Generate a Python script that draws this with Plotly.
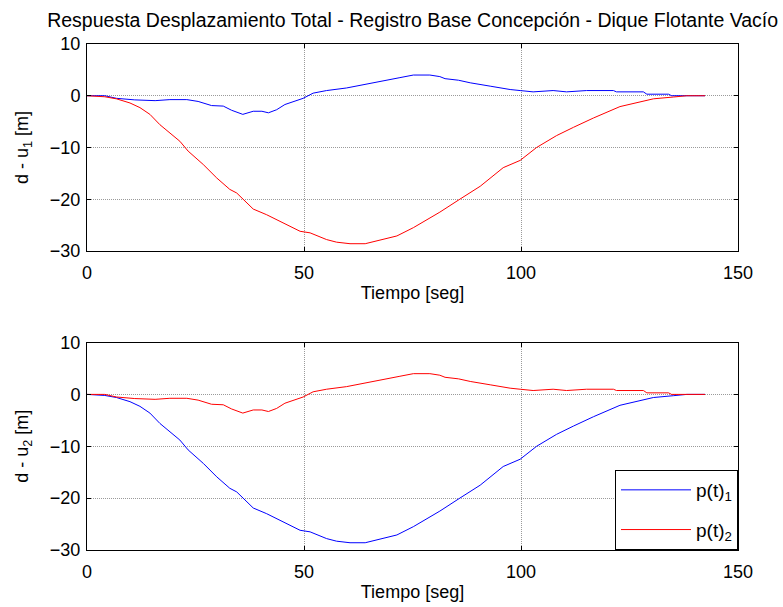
import plotly.graph_objects as go
from plotly.subplots import make_subplots

# Time samples [s] for the two response curves
t_small = [0, 4.1, 6.8, 11.0, 15.7, 19.1, 23.0, 25.6, 28.7, 31.4, 33.3, 35.9, 38.3,
           40.3, 41.8, 43.7, 45.6, 48.3, 49.8, 52.1, 55.2, 59.8, 64.4, 68.3, 72.1,
           75.2, 79.0, 81.3, 82.5, 85.6, 88.3, 92.9, 95.2, 97.5, 99.8, 102.8, 107.4,
           110.5, 115.1, 121.3, 122.0, 128.2, 129.0, 134.0, 134.7, 142.4]
d_small = [0, 0, -0.5, -0.8, -0.95, -0.75, -0.75, -1.1, -1.9, -2.0, -2.8, -3.6, -3.0,
           -3.0, -3.3, -2.7, -1.7, -0.95, -0.5, 0.5, 1.0, 1.5, 2.2, 2.8, 3.5,
           4.0, 4.0, 3.7, 3.3, 3.0, 2.5, 1.85, 1.5, 1.2, 1.0, 0.75, 1.0,
           0.75, 1.0, 1.0, 0.75, 0.75, 0.3, 0.3, 0, 0]

t_large = [0, 4.1, 6.8, 9.9, 12.2, 14.5, 16.8, 19.1, 21.4, 23.3, 26.8, 29.9, 32.9,
           34.5, 36.8, 38.3, 41.4, 45.2, 49.1, 51.4, 55.2, 57.5, 60.6, 64.1, 67.5,
           71.4, 75.2, 79.0, 81.3, 85.9, 90.6, 95.9, 99.8, 103.6, 108.2, 112.1,
           116.7, 122.8, 126.7, 130.5, 135.1, 138.2, 142.4]
d_large = [0, -0.2, -0.6, -1.4, -2.3, -3.6, -5.6, -7.2, -8.8, -10.7, -13.3, -15.9, -18.1,
           -18.8, -20.7, -21.9, -23.0, -24.6, -26.2, -26.5, -27.8, -28.3, -28.6, -28.6, -27.9,
           -27.1, -25.5, -23.6, -22.5, -20.0, -17.5, -13.9, -12.5, -10.0, -7.7, -6.1,
           -4.3, -2.1, -1.4, -0.6, -0.25, 0, 0]

series_names = ["p(t)<sub>1</sub>", "p(t)<sub>2</sub>"]
series_colors = ["#0000ff", "#ff0000"]
x_ticks = [0, 50, 100, 150]
y_ticks = [10, 0, -10, -20, -30]

# Row 1: d - u1 ; Row 2: d - u2
panels = [
    {"p1": (t_small, d_small), "p2": (t_large, d_large), "ylabel": "d - u<sub>1</sub> [m]"},
    {"p1": (t_large, d_large), "p2": (t_small, d_small), "ylabel": "d - u<sub>2</sub> [m]"},
]

FONT = "Liberation Sans, Arial, sans-serif"
TXT = dict(family=FONT, size=18, color="black")

fig = make_subplots(rows=2, cols=1)

for r, panel in enumerate(panels, start=1):
    for k, key in enumerate(["p1", "p2"]):
        tx, ty = panel[key]
        fig.add_trace(go.Scatter(
            x=tx, y=ty, mode="lines",
            line=dict(color=series_colors[k], width=1),
            name=series_names[k], legendgroup=key, showlegend=(r == 2),
        ), row=r, col=1)

axis_common = dict(
    showline=True, linecolor="black", linewidth=1, mirror="ticks",
    ticks="inside", ticklen=4, tickcolor="black",
    showgrid=True, gridcolor="#9a9a9a", griddash="1px,1px", gridwidth=1,
    zeroline=False, tickfont=TXT, automargin=False,
)

for r, panel in enumerate(panels, start=1):
    fig.update_xaxes(range=[0, 150], tickvals=x_ticks, **axis_common,
                     ticklabelstandoff=5,
                     title=dict(text="Tiempo [seg]", font=TXT, standoff=4),
                     row=r, col=1)
    fig.update_yaxes(range=[-30, 10], tickvals=y_ticks, **axis_common,
                     ticklabelstandoff=2,
                     title=dict(text=panel["ylabel"], font=TXT, standoff=16),
                     row=r, col=1)

fig.update_layout(
    width=783, height=607,
    margin=dict(l=87, r=45, t=44, b=57),
    paper_bgcolor="white", plot_bgcolor="white",
    xaxis=dict(domain=[0, 1]), xaxis2=dict(domain=[0, 1]),
    yaxis=dict(domain=[0.591, 1.0]), yaxis2=dict(domain=[0.0, 0.410]),
    title=dict(text="Respuesta Desplazamiento Total - Registro Base Concepción - Dique Flotante Vacío",
               font=dict(family=FONT, size=19.5, color="black"),
               x=0.527, xanchor="center", y=0.967, yanchor="middle"),
    legend=dict(x=1, y=0, xanchor="right", yanchor="bottom",
                bgcolor="white", bordercolor="black", borderwidth=1,
                font=dict(family=FONT, size=19, color="black"),
                itemwidth=70, tracegroupgap=12),
    showlegend=True,
)

fig.write_html("out.html")
